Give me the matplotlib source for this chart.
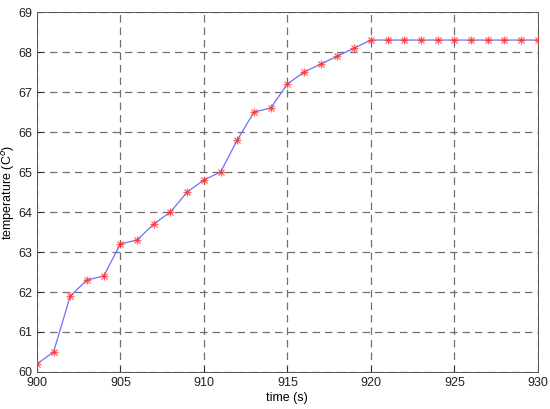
import numpy as np
import matplotlib
matplotlib.use("Agg")
import matplotlib.pyplot as plt

# data
time_s = list(range(900, 931))
temp_c = [60.2, 60.5, 61.9, 62.3, 62.4, 63.2, 63.3, 63.7, 64.0, 64.5,
          64.8, 65.0, 65.8, 66.5, 66.6, 67.2, 67.5, 67.7, 67.9, 68.1,
          68.3, 68.3, 68.3, 68.3, 68.3, 68.3, 68.3, 68.3, 68.3, 68.3, 68.3]
x_ticks = [900, 905, 910, 915, 920, 925, 930]
y_ticks = list(range(60, 70))

plt.rcParams['font.family'] = ['Liberation Sans', 'DejaVu Sans']
plt.rcParams['font.size'] = 9

fig = plt.figure(figsize=(5.5, 4.09), dpi=100)
ax = fig.add_axes([0.067, 0.0905, 0.911, 0.880])

ax.plot(time_s, temp_c, color='#6f6fff', linewidth=0.9, zorder=3)
# matlab style asterisk: plus + cross
for m in ['+', 'x']:
    ax.plot(time_s, temp_c, linestyle='none', marker=m, color='#ff3030',
            markersize=5.5 if m == '+' else 4.5, markeredgewidth=0.9,
            alpha=0.75, zorder=4)

ax.set_xlim(900, 930)
ax.set_ylim(60, 69)
ax.set_xticks(x_ticks)
ax.set_yticks(y_ticks)
ax.grid(True, color='#707070', linestyle=(0, (6, 4)), linewidth=0.9)
ax.tick_params(direction='in', length=4, colors='#222222', width=0.6)
for s in ax.spines.values():
    s.set_color('#555555')
    s.set_linewidth(0.7)

ax.set_xlabel('time (s)', labelpad=2)
ax.set_ylabel('temperature (C$^o$)')
ax.yaxis.set_label_coords(-0.040, 0.5)

fig.savefig('out.png', dpi=100)
